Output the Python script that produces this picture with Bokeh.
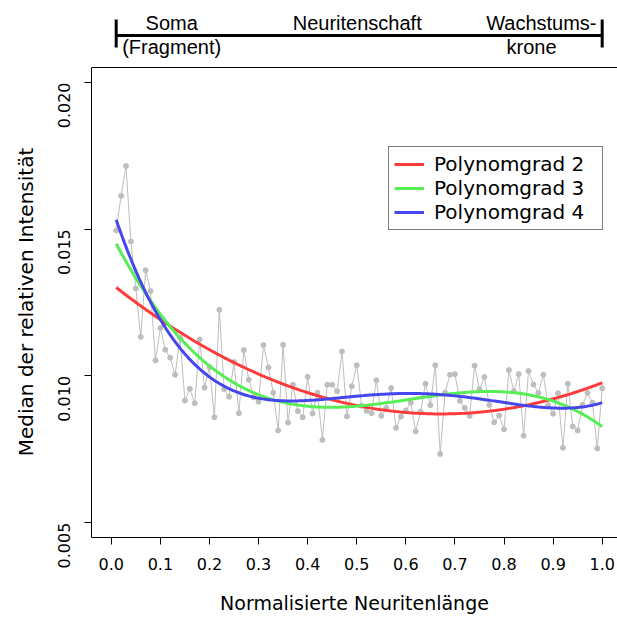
import numpy as np
from bokeh.plotting import figure
from bokeh.layouts import column
from bokeh.models import (Range1d, FixedTicker, NumeralTickFormatter, Span,
                          Legend, LegendItem, Label, ColumnDataSource)
from bokeh.embed import file_html
from bokeh.resources import INLINE

# ---------------- data ----------------
x_pos = np.round(np.linspace(0.01, 1.0, 100), 2)
median_int = [
    0.01496, 0.01614, 0.01715, 0.01458, 0.01298, 0.01133, 0.01360, 0.01289, 0.01053, 0.01163,
    0.01089, 0.01062, 0.01004, 0.01130, 0.00916, 0.00956, 0.00907, 0.01124, 0.00960, 0.01030,
    0.00859, 0.01225, 0.00955, 0.00929, 0.01047, 0.00873, 0.01088, 0.00987, 0.00927, 0.00912,
    0.01105, 0.01029, 0.00943, 0.00814, 0.01106, 0.00841, 0.00970, 0.00880, 0.00859, 0.00997,
    0.00872, 0.00943, 0.00782, 0.00970, 0.00970, 0.00948, 0.01083, 0.00862, 0.00965, 0.01036,
    0.00898, 0.00881, 0.00873, 0.00985, 0.00864, 0.00891, 0.00959, 0.00823, 0.00861, 0.00882,
    0.00909, 0.00811, 0.00878, 0.00973, 0.00900, 0.01036, 0.00734, 0.00943, 0.01004, 0.01006,
    0.00915, 0.00891, 0.00864, 0.01035, 0.00955, 0.00996, 0.00901, 0.00842, 0.00865, 0.00818,
    0.01020, 0.00948, 0.01006, 0.00796, 0.01017, 0.00971, 0.00942, 0.01004, 0.00900, 0.00871,
    0.00941, 0.00755, 0.00973, 0.00828, 0.00814, 0.00901, 0.00942, 0.00909, 0.00753, 0.00958,
]
degrees = [2, 3, 4]
legend_labels = ["Polynomgrad 2", "Polynomgrad 3", "Polynomgrad 4"]
x_ticks = [0.0, 0.1, 0.2, 0.3, 0.4, 0.5, 0.6, 0.7, 0.8, 0.9, 1.0]
y_ticks = [0.005, 0.010, 0.015, 0.020]
x_title = "Normalisierte Neuritenlänge"
y_title = "Median der relativen Intensität"
region_labels = [("Soma", 0.123, "top"), ("(Fragment)", 0.123, "bottom"),
                 ("Neuritenschaft", 0.501, "top"),
                 ("Wachstums-", 0.876, "top"), ("krone", 0.856, "bottom")]

# ---------------- shared ranges ----------------
Y_LOW, Y_BOX_TOP, Y_FRAME_TOP, Y_HIGH = 0.004493, 0.020511, 0.020545, 0.022795
x_range = Range1d(-0.0403, 1.03117)
AX_FONT = "DejaVu Sans"

# ---------------- header figure: region bracket ----------------
h = figure(width=617, height=66, output_backend="svg", toolbar_location=None,
           x_range=x_range, y_range=Range1d(Y_FRAME_TOP, Y_HIGH),
           min_border_left=91, min_border_right=0, min_border_top=0, min_border_bottom=0)
h.axis.visible = False
h.grid.visible = False
h.outline_line_color = None

BR_Y, BR_TOP, BR_BOT = 0.021602, 0.022147, 0.021193
h.segment(x0=[x_pos[0]], y0=[BR_Y], x1=[x_pos[-1]], y1=[BR_Y], line_color="black", line_width=3)
h.segment(x0=[x_pos[0], x_pos[-1]], y0=[BR_TOP, BR_TOP], x1=[x_pos[0], x_pos[-1]],
          y1=[BR_BOT, BR_BOT], line_color="black", line_width=3)
for txt, xc, row in region_labels:
    h.add_layout(Label(x=xc, y=(0.022045 if row == "top" else 0.021193), text=txt,
                       text_align="center", text_baseline="middle",
                       text_font="Liberation Sans", text_font_size="20px", text_color="black"))

# ---------------- main figure ----------------
p = figure(width=617, height=551, output_backend="svg", toolbar_location=None,
           x_range=x_range, y_range=Range1d(Y_LOW, Y_FRAME_TOP),
           min_border_left=91, min_border_right=0, min_border_top=0,
           min_border_bottom=80)
p.outline_line_color = None
p.grid.visible = False

# x axis
xa = p.xaxis[0]
xa.ticker = FixedTicker(ticks=x_ticks)
xa.formatter = NumeralTickFormatter(format="0.0")
xa.minor_tick_line_color = None
xa.major_tick_in = 0
xa.major_tick_out = 7
xa.major_tick_line_color = "black"
xa.major_label_standoff = 13
xa.major_label_text_font = AX_FONT
xa.major_label_text_font_size = "16px"
xa.major_label_text_color = "black"
xa.axis_line_color = "black"
xa.axis_label = x_title
xa.axis_label_text_font = AX_FONT
xa.axis_label_text_font_size = "19px"
xa.axis_label_text_font_style = "normal"
xa.axis_label_text_color = "black"
xa.axis_label_standoff = 19

# y axis
ya = p.yaxis[0]
ya.ticker = FixedTicker(ticks=y_ticks)
ya.formatter = NumeralTickFormatter(format="0.000")
ya.bounds = (Y_LOW, Y_BOX_TOP)
ya.minor_tick_line_color = None
ya.major_tick_in = 0
ya.major_tick_out = 7
ya.major_tick_line_color = "black"
ya.major_label_orientation = np.pi / 2
ya.major_label_standoff = 20
ya.major_label_text_font = AX_FONT
ya.major_label_text_font_size = "16px"
ya.major_label_text_color = "black"
ya.axis_line_color = "black"
ya.axis_label = y_title
ya.axis_label_text_font = AX_FONT
ya.axis_label_text_font_size = "20px"
ya.axis_label_text_font_style = "normal"
ya.axis_label_text_color = "black"
ya.axis_label_standoff = 12

# top edge of the box
p.add_layout(Span(location=Y_BOX_TOP, dimension="width", line_color="black", line_width=1))

# ---------------- data marks ----------------
src = ColumnDataSource(dict(x=x_pos, y=median_int))
p.line("x", "y", source=src, line_color="#BEBEBE", line_width=1)
p.scatter("x", "y", source=src, size=5, fill_color="#BEBEBE", line_color="#BEBEBE")

fit_colors = ["#FF3A3A", "#55EE55", "#4646EE"]
x_fit = np.linspace(x_pos[0], x_pos[-1], 300)
renderers = []
for d, c in zip(degrees, fit_colors):
    coef = np.polyfit(x_pos, median_int, d)
    r = p.line(x_fit, np.polyval(coef, x_fit), line_color=c, line_width=3)
    renderers.append(r)

legend = Legend(items=[LegendItem(label=l, renderers=[r]) for l, r in zip(legend_labels, renderers)],
                location=(297, 307), margin=0, padding=5, spacing=0,
                glyph_width=30, glyph_height=22, label_height=22, label_width=163,
                label_standoff=10,
                label_text_font=AX_FONT, label_text_font_size="20px",
                label_text_color="black",
                border_line_color="black", border_line_width=1,
                background_fill_color="white", background_fill_alpha=1)
p.add_layout(legend)

layout = column(h, p, spacing=0)
open("out.html", "w").write(file_html(layout, INLINE))
